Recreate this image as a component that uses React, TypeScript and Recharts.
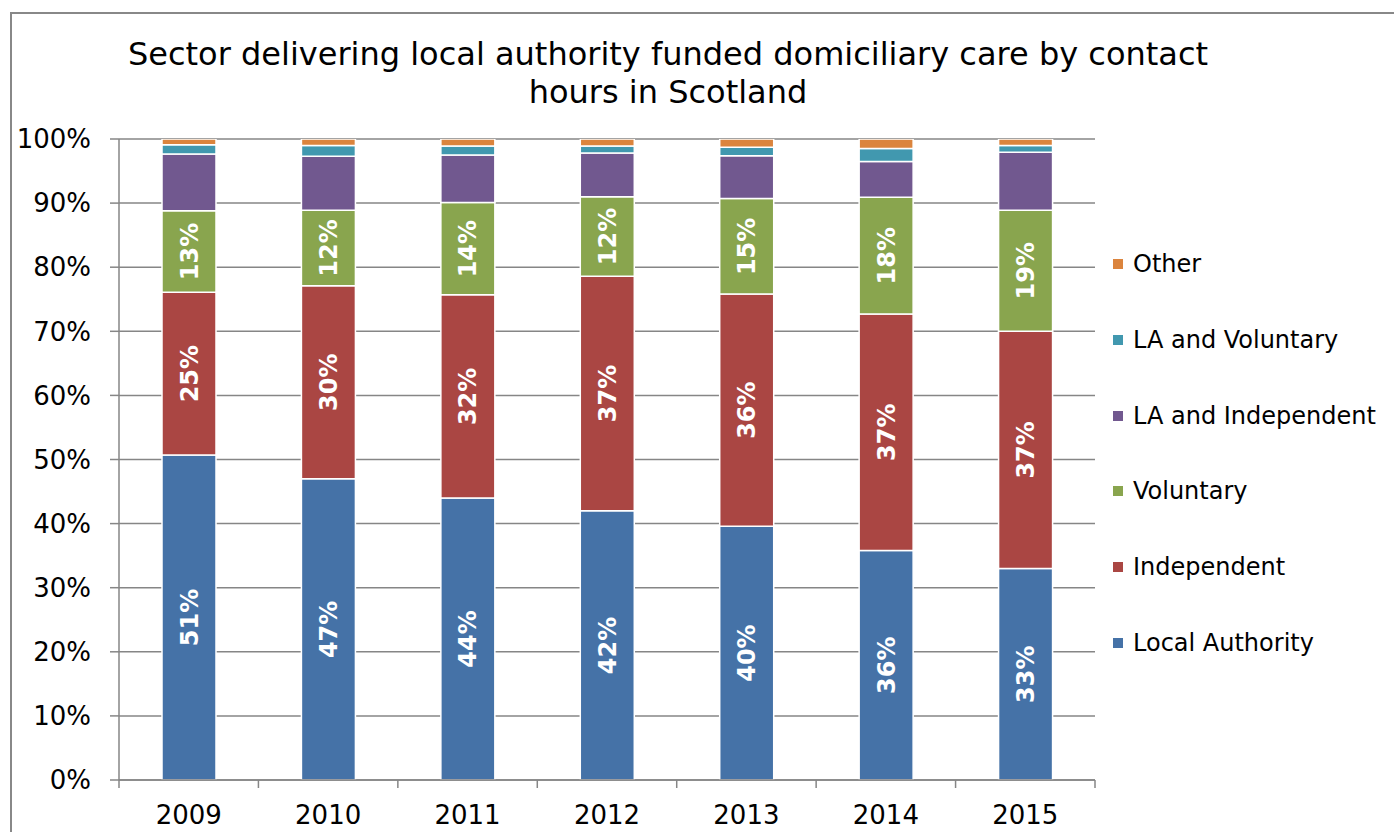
import React from 'react';
import { BarChart, Bar, XAxis, YAxis, CartesianGrid, LabelList } from 'recharts';

const years = ['2009', '2010', '2011', '2012', '2013', '2014', '2015'];
const localAuthority = [50.7, 47.0, 44.0, 42.0, 39.6, 35.8, 33.0];
const independent = [25.4, 30.1, 31.7, 36.6, 36.2, 36.9, 37.0];
const voluntary = [12.7, 11.8, 14.4, 12.4, 14.9, 18.2, 18.9];
const laIndependent = [8.85, 8.4, 7.4, 6.8, 6.7, 5.6, 9.05];
const laVoluntary = [1.45, 1.7, 1.4, 1.1, 1.3, 2.0, 1.05];
const other = [0.9, 1.0, 1.1, 1.1, 1.3, 1.5, 1.0];
const yTicks = [0, 10, 20, 30, 40, 50, 60, 70, 80, 90, 100];

const series = [
  { key: 'la', name: 'Local Authority', color: '#4572A7', values: localAuthority, label: true },
  { key: 'ind', name: 'Independent', color: '#AA4643', values: independent, label: true },
  { key: 'vol', name: 'Voluntary', color: '#89A54E', values: voluntary, label: true },
  { key: 'lai', name: 'LA and Independent', color: '#71588F', values: laIndependent, label: false },
  { key: 'lav', name: 'LA and Voluntary', color: '#4198AF', values: laVoluntary, label: false },
  { key: 'oth', name: 'Other', color: '#DB843D', values: other, label: false },
];

const data = years.map((y, i) => {
  const row: any = { year: y };
  series.forEach((s) => { row[s.key] = s.values[i]; });
  return row;
});

const FONT = '"DejaVu Sans", Verdana, sans-serif';
const AXIS = '#868686';
const W = 1394;
const H = 832;
const M = { top: 139, right: 299, bottom: 12, left: 19 };
const PLOT_W = W - M.left - 100 - M.right;
const BAND = PLOT_W / years.length;

const XTick = (props: any) => {
  const { x, y, payload, index } = props;
  const half = BAND / 2;
  return (
    <g>
      <line x1={x - half} x2={x - half} y1={y} y2={y + 8} stroke={AXIS} strokeWidth={1.5} />
      {index === years.length - 1 && (
        <line x1={x + half} x2={x + half} y1={y} y2={y + 8} stroke={AXIS} strokeWidth={1.5} />
      )}
      <text x={x} y={y + 44} textAnchor="middle" fontSize={26} fill="#000" fontFamily={FONT}>
        {payload.value}
      </text>
    </g>
  );
};

export default function App() {
  const legendItems = [...series].reverse();
  return (
    <div style={{ position: 'absolute', left: 0, top: 0, width: W, height: H, overflow: 'hidden', background: '#fff', fontFamily: FONT }}>
      <div style={{ position: 'absolute', left: 10, top: 12, width: 1500, height: 1000, border: '2px solid #888', boxSizing: 'border-box' }} />
      <div style={{ position: 'absolute', left: 0, top: 35, width: 1336, textAlign: 'center', fontSize: 32, lineHeight: '38px', color: '#000' }}>
        Sector delivering local authority funded domiciliary care by contact<br />hours in Scotland
      </div>
      <div style={{ position: 'absolute', left: 0, top: 0 }}>
        <BarChart width={W} height={H} data={data} margin={M} barSize={54}>
          <CartesianGrid vertical={false} stroke={AXIS} strokeWidth={1.5} />
          <XAxis
            dataKey="year"
            axisLine={{ stroke: AXIS, strokeWidth: 1.5 }}
            tickLine={false}
            tickSize={0}
            tickMargin={0}
            height={40}
            tick={<XTick />}
            interval={0}
          />
          <YAxis
            type="number"
            domain={[0, 100]}
            ticks={yTicks}
            allowDataOverflow
            width={100}
            axisLine={{ stroke: AXIS, strokeWidth: 1.5 }}
            tickLine={{ stroke: AXIS, strokeWidth: 1.5 }}
            tickSize={9}
            tickMargin={19}
            tickFormatter={(v: number) => `${v}%`}
            tick={{ fontSize: 26, fill: '#000', fontFamily: FONT }}
            interval={0}
          />
          {series.map((s) => (
            <Bar key={s.key} dataKey={s.key} name={s.name} stackId="a" fill={s.color} stroke="#fff" strokeWidth={1.5} isAnimationActive={false}>
              {s.label && (
                <LabelList
                  dataKey={s.key}
                  position="center"
                  angle={-90}
                  formatter={(v: any) => `${Math.round(Number(v))}%`}
                  style={{ fill: '#fff', fontSize: 24, fontWeight: 'bold', fontFamily: FONT }}
                />
              )}
            </Bar>
          ))}
        </BarChart>
      </div>
      {legendItems.map((s, i) => (
        <div key={s.key} style={{ position: 'absolute', left: 1113, top: 264 + i * 75.8 - 15, height: 30, display: 'flex', alignItems: 'center', fontSize: 24, color: '#000', whiteSpace: 'nowrap' }}>
          <span style={{ display: 'inline-block', width: 10, height: 10, background: s.color, marginRight: 10 }} />
          <span>{s.name}</span>
        </div>
      ))}
    </div>
  );
}
